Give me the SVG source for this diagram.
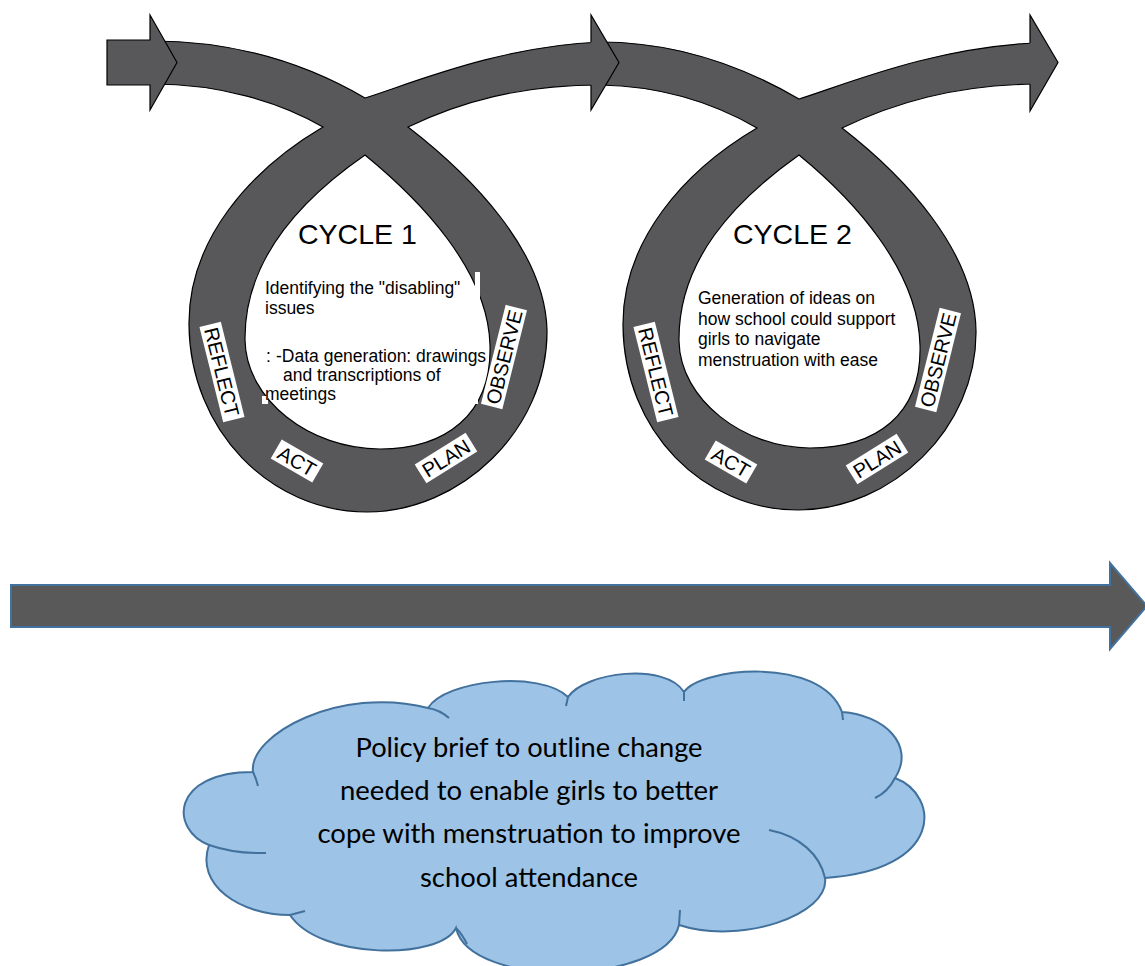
<svg xmlns="http://www.w3.org/2000/svg" width="1145" height="966" viewBox="0 0 1145 966">
<style>
.band{fill:#58585a;stroke:#000;stroke-width:1.2;fill-rule:evenodd;stroke-linejoin:miter}
.head{fill:#58585a;stroke:#000;stroke-width:1.2;stroke-linejoin:miter}
.lbl rect{fill:#fff}
.lbl text{font-family:"Liberation Sans",Arial,sans-serif;font-size:20px;fill:#000;text-anchor:middle}
.title{font-family:"Liberation Sans",Arial,sans-serif;font-size:28.5px;fill:#000}
.body{font-family:"Liberation Sans",Arial,sans-serif;font-size:17.5px;fill:#000}
.cloud{fill:#9dc3e6;stroke:#41719c;stroke-width:2}
.crease{fill:none;stroke:#41719c;stroke-width:2}
.ctext{font-family:Lato,"Liberation Sans",sans-serif;font-size:26.5px;fill:#000;text-anchor:middle}
.sliver{fill:#fff}
</style>
<rect width="1145" height="966" fill="#fff"/>

<g id="loop1">
<path class="band" d="M152,41 C230,41 300,60 365,98 C410,84 500,46 600,42 L600,85 C520,85 460,102 408,127 C470,175 545,250 547,330 C548,430 460,512 367,512 C270,512 190,430 189,325 C188,240 250,170 323,127 C280,102 220,84 152,84 Z M365,155 C420,200 488,270 490,345 C492,415 445,449 380,449 C310,449 246,400 245,340 C244,260 300,200 365,155 Z"/>
<rect class="sliver" x="475" y="272" width="5" height="26"/>
<rect class="sliver" x="470" y="388" width="8" height="16"/>
<rect class="sliver" x="262" y="396" width="6" height="8"/>
<text class="title" x="298" y="244">CYCLE 1</text>
<text class="body" x="265" y="294">Identifying the "disabling"</text>
<text class="body" x="265" y="314">issues</text>
<text class="body" x="266" y="362" font-size="11">:</text>
<text class="body" x="276" y="362">-Data generation: drawings</text>
<text class="body" x="283" y="381">and transcriptions of</text>
<text class="body" x="265" y="400">meetings</text>
<g class="lbl" transform="translate(222,372) rotate(76)"><rect x="-49" y="-11" width="98" height="22"/><text y="7.2">REFLECT</text></g>
<g class="lbl" transform="translate(504,357) rotate(-76)"><rect x="-51" y="-11" width="102" height="22"/><text y="7.2">OBSERVE</text></g>
<g class="lbl" transform="translate(297,461) rotate(30)"><rect x="-24" y="-11" width="48" height="22"/><text y="7.2">ACT</text></g>
<g class="lbl" transform="translate(446,458) rotate(-32)"><rect x="-30" y="-11" width="60" height="22"/><text y="7.2">PLAN</text></g>
</g>

<g id="loop2">
<path class="band" d="M600,42 C670,42 734,61 799,99 C844,85 934,47 1036,43 L1036,84 C954,85 894,103 842,128 C904,176 975,251 976,331 C977,428 892,510 798,510 C703,510 624,431 623,326 C622,241 684,171 757,128 C714,103 660,86 600,85 Z M799,155 C854,200 918,270 920,345 C922,415 876,448 810,448 C744,448 680,400 679,341 C678,261 734,201 799,155 Z"/>
<text class="title" x="733" y="244">CYCLE 2</text>
<text class="body" x="698" y="304">Generation of ideas on</text>
<text class="body" x="698" y="325">how school could support</text>
<text class="body" x="698" y="345">girls to navigate</text>
<text class="body" x="698" y="366">menstruation with ease</text>
<g class="lbl" transform="translate(656,372) rotate(76)"><rect x="-49" y="-11" width="98" height="22"/><text y="7.2">REFLECT</text></g>
<g class="lbl" transform="translate(938,360) rotate(-76)"><rect x="-51" y="-11" width="102" height="22"/><text y="7.2">OBSERVE</text></g>
<g class="lbl" transform="translate(731,462) rotate(30)"><rect x="-24" y="-11" width="48" height="22"/><text y="7.2">ACT</text></g>
<g class="lbl" transform="translate(877,459) rotate(-32)"><rect x="-30" y="-11" width="60" height="22"/><text y="7.2">PLAN</text></g>
</g>

<g id="connectors">
<path id="arrow-start" class="head" d="M107,40 L150,40 L150,15 L177,62.5 L150,110 L150,85 L107,85 Z"/>
<path id="arrowhead-1" class="head" d="M591,42 L591,15 L619,62.5 L591,110 L591,85"/>
<path id="arrowhead-2" class="head" d="M1030,43 L1030,15 L1058,62.5 L1030,111 L1030,84"/>
<path id="timeline" d="M11,585 L1110,585 L1110,563 L1147,606 L1110,649 L1110,627 L11,627 Z" fill="#595959" stroke="#41719c" stroke-width="2"/>
</g>

<g id="cloud">
<path class="cloud" d="M253,772 C248,735 340,685 428,708 C445,680 540,670 568,697 C585,672 665,662 684,692 C700,668 820,655 842,712 C884,715 916,745 895,778 C940,795 945,870 825,878 C830,915 740,945 679,925 C665,985 470,990 456,928 C440,960 320,960 290,915 C240,915 195,885 209,845 C170,830 170,772 253,772 Z"/>
<path class="crease" d="M253,772 Q256,778 258,786 M428,708 Q440,710 449,718 M568,697 L566,706 M684,692 L684,701 M842,712 L843,720 M895,778 Q888,792 875,798 M825,878 C820,855 800,836 769,830 M679,925 L680,910 M456,928 Q462,934 467,944 M290,915 L305,911 M209,845 Q235,854 266,853"/>
<text class="ctext" x="529" y="757" textLength="347" lengthAdjust="spacingAndGlyphs">Policy brief to outline change</text>
<text class="ctext" x="529" y="800" textLength="378" lengthAdjust="spacingAndGlyphs">needed to enable girls to better</text>
<text class="ctext" x="529" y="843" textLength="423" lengthAdjust="spacingAndGlyphs">cope with menstruation to improve</text>
<text class="ctext" x="529" y="887" textLength="218" lengthAdjust="spacingAndGlyphs">school attendance</text>
</g>
</svg>
